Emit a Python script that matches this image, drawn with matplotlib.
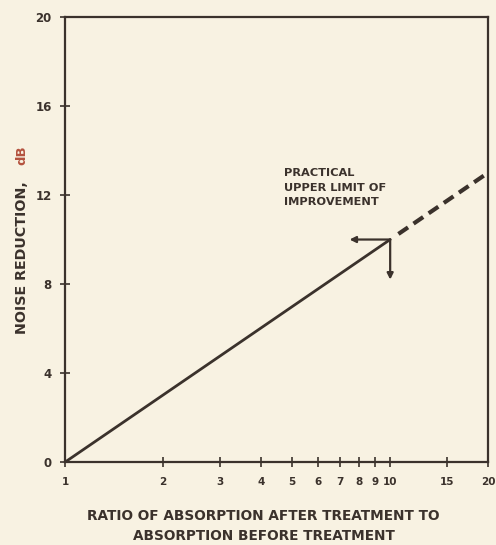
import matplotlib

matplotlib.use("Agg")
import matplotlib.pyplot as plt
from matplotlib.ticker import FixedLocator, NullLocator

# absorption ratio vs noise reduction (dB)
ratio_solid = [1, 10]
nr_solid = [0, 10]
ratio_dashed = [10.6, 20]
nr_dashed = [10.25, 13]

x_ticks = [1, 2, 3, 4, 5, 6, 7, 8, 9, 10, 15, 20]
x_tick_labels = ["1", "2", "3", "4", "5", "6", "7", "8", "9", "10", "15", "20"]
y_ticks = [0, 4, 8, 12, 16, 20]

# limit marker at ratio 10 / 10 dB
limit_x, limit_y = 10, 10
arrow_left_x = 7.5
arrow_down_y = 8.2

paper = "#f8f2e2"
ink = "#3b322c"
red_ink = "#b4523e"

plt.rcParams.update({"font.family": "DejaVu Sans", "font.weight": "bold"})

fig = plt.figure(figsize=(4.96, 5.45), dpi=100, facecolor=paper)
ax = fig.add_axes([0.131, 0.152, 0.853, 0.817])
ax.set_facecolor(paper)

ax.plot(ratio_solid, nr_solid, color=ink, linewidth=2.0, solid_capstyle="round")
ax.plot(ratio_dashed, nr_dashed, color=ink, linewidth=3.0, linestyle=(0, (2.8, 1.6)))

ax.annotate("", xy=(arrow_left_x, limit_y), xytext=(limit_x, limit_y),
            arrowprops=dict(arrowstyle="-|>", color=ink, lw=1.6, mutation_scale=9,
                            shrinkA=0, shrinkB=0))
ax.annotate("", xy=(limit_x, arrow_down_y), xytext=(limit_x, limit_y),
            arrowprops=dict(arrowstyle="-|>", color=ink, lw=1.6, mutation_scale=9,
                            shrinkA=0, shrinkB=0))
ax.text(4.72, 13.2, "PRACTICAL\nUPPER LIMIT OF\nIMPROVEMENT", fontsize=8.2,
        color=ink, ha="left", va="top", linespacing=1.55)

ax.set_xscale("log")
ax.set_xlim(1, 20)
ax.set_ylim(0, 20)
ax.xaxis.set_major_locator(FixedLocator(x_ticks))
ax.xaxis.set_minor_locator(NullLocator())
ax.set_xticklabels(x_tick_labels)
ax.set_yticks(y_ticks)

for side in ax.spines.values():
    side.set_color(ink)
    side.set_linewidth(1.6)
ax.tick_params(axis="both", direction="inout", length=7, width=1.2, color=ink,
               labelcolor=ink)
ax.tick_params(axis="x", labelsize=7.5, pad=7)
ax.tick_params(axis="y", labelsize=8.5, pad=6)

fig.text(263 / 496, 1 - 516 / 545, "RATIO OF ABSORPTION AFTER TREATMENT TO", fontsize=9.8,
         color=ink, ha="center", va="center")
fig.text(264 / 496, 1 - 536 / 545, "ABSORPTION BEFORE TREATMENT", fontsize=9.8,
         color=ink, ha="center", va="center")
fig.text(22 / 496, 1 - 258 / 545, "NOISE REDUCTION,", fontsize=10.3, color=ink,
         rotation=90, ha="center", va="center")
fig.text(22 / 496, 1 - 155 / 545, "dB", fontsize=9.5, color=red_ink,
         rotation=90, ha="center", va="center")

fig.savefig("out.png", dpi=100, facecolor=paper)
